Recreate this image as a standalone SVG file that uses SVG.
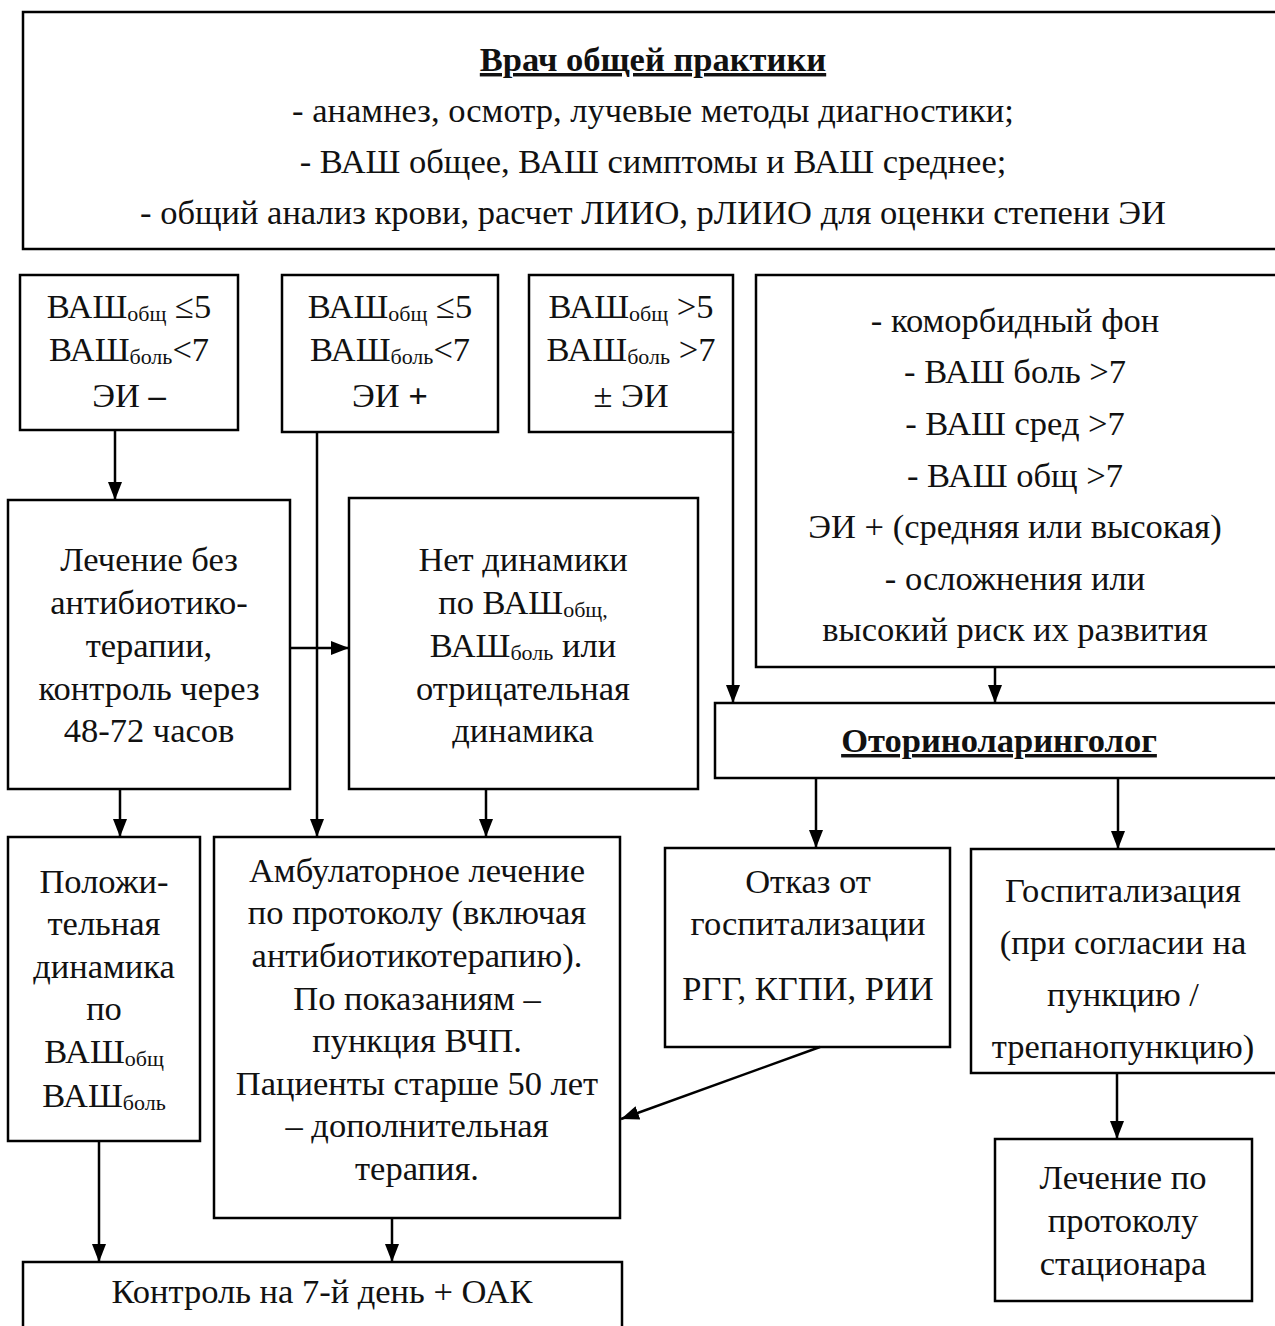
<svg xmlns="http://www.w3.org/2000/svg" width="1275" height="1326" viewBox="0 0 1275 1326">
<style>
  .box { fill: #fff; stroke: #000; stroke-width: 2.5; }
  .t { font-family: "Liberation Serif", "Times New Roman", serif; font-size: 34.5px; fill: #111; text-anchor: middle; }
  .top { font-size: 34.5px; }
  .b { font-weight: bold; }
  .u { text-decoration: underline; }
  .sub { font-size: 22px; }
  .conn line { stroke: #000; stroke-width: 2.5; fill: none; marker-end: url(#ah); }
</style>
<defs>
  <marker id="ah" markerUnits="userSpaceOnUse" markerWidth="18" markerHeight="18" viewBox="0 0 18 18" refX="18" refY="9" orient="auto">
    <path d="M0,2 L18,9 L0,16 Z" fill="#000"/>
  </marker>
</defs>
<rect width="1275" height="1326" fill="#fff"/>

<g id="gp">
  <rect class="box" x="23" y="12" width="1265" height="237"/>
  <text class="t top b u" x="653" y="71">Врач общей практики</text>
  <text class="t top" x="653" y="122">- анамнез, осмотр, лучевые методы диагностики;</text>
  <text class="t top" x="653" y="173">- ВАШ общее, ВАШ симптомы и ВАШ среднее;</text>
  <text class="t top" x="653" y="224">- общий анализ крови, расчет ЛИИО, рЛИИО для оценки степени ЭИ</text>
</g>

<g id="condA">
  <rect class="box" x="20" y="275" width="218" height="155"/>
  <text class="t" x="129" y="318">ВАШ<tspan class="sub" dy="3">общ</tspan><tspan dy="-3"> ≤5</tspan></text>
  <text class="t" x="129" y="361">ВАШ<tspan class="sub" dy="3">боль</tspan><tspan dy="-3">&lt;7</tspan></text>
  <text class="t" x="129" y="407">ЭИ <tspan class="b">–</tspan></text>
</g>

<g id="condB">
  <rect class="box" x="282" y="275" width="216" height="157"/>
  <text class="t" x="390" y="318">ВАШ<tspan class="sub" dy="3">общ</tspan><tspan dy="-3"> ≤5</tspan></text>
  <text class="t" x="390" y="361">ВАШ<tspan class="sub" dy="3">боль</tspan><tspan dy="-3">&lt;7</tspan></text>
  <text class="t" x="390" y="407">ЭИ <tspan class="b">+</tspan></text>
</g>

<g id="condC">
  <rect class="box" x="529" y="275" width="204" height="157"/>
  <text class="t" x="631" y="318">ВАШ<tspan class="sub" dy="3">общ</tspan><tspan dy="-3"> &gt;5</tspan></text>
  <text class="t" x="631" y="361">ВАШ<tspan class="sub" dy="3">боль</tspan><tspan dy="-3"> &gt;7</tspan></text>
  <text class="t" x="631" y="407">± ЭИ</text>
</g>

<g id="condD">
  <rect class="box" x="756" y="275" width="530" height="392"/>
  <text class="t" x="1015" y="332">- коморбидный фон</text>
  <text class="t" x="1015" y="383">- ВАШ боль &gt;7</text>
  <text class="t" x="1015" y="435">- ВАШ сред &gt;7</text>
  <text class="t" x="1015" y="487">- ВАШ общ &gt;7</text>
  <text class="t" x="1015" y="538">ЭИ + (средняя или высокая)</text>
  <text class="t" x="1015" y="590">- осложнения или</text>
  <text class="t" x="1015" y="641">высокий риск их развития</text>
</g>

<g id="noAB">
  <rect class="box" x="8" y="500" width="282" height="289"/>
  <text class="t" x="149" y="571">Лечение без</text>
  <text class="t" x="149" y="614">антибиотико-</text>
  <text class="t" x="149" y="657">терапии,</text>
  <text class="t" x="149" y="700">контроль через</text>
  <text class="t" x="149" y="742">48-72 часов</text>
</g>

<g id="noDyn">
  <rect class="box" x="349" y="498" width="349" height="291"/>
  <text class="t" x="523" y="571">Нет динамики</text>
  <text class="t" x="523" y="614">по ВАШ<tspan class="sub" dy="3">общ,</tspan></text>
  <text class="t" x="523" y="657">ВАШ<tspan class="sub" dy="3">боль</tspan><tspan dy="-3"> или</tspan></text>
  <text class="t" x="523" y="700">отрицательная</text>
  <text class="t" x="523" y="742">динамика</text>
</g>

<g id="ent">
  <rect class="box" x="715" y="703" width="572" height="75"/>
  <text class="t b u" x="999" y="752">Оториноларинголог</text>
</g>

<g id="posDyn">
  <rect class="box" x="8" y="837" width="192" height="304"/>
  <text class="t" x="104" y="893">Положи-</text>
  <text class="t" x="104" y="935">тельная</text>
  <text class="t" x="104" y="978">динамика</text>
  <text class="t" x="104" y="1020">по</text>
  <text class="t" x="104" y="1063">ВАШ<tspan class="sub" dy="3">общ</tspan></text>
  <text class="t" x="104" y="1107">ВАШ<tspan class="sub" dy="3">боль</tspan></text>
</g>

<g id="amb">
  <rect class="box" x="214" y="837" width="406" height="381"/>
  <text class="t" x="417" y="882">Амбулаторное лечение</text>
  <text class="t" x="417" y="924">по протоколу (включая</text>
  <text class="t" x="417" y="967">антибиотикотерапию).</text>
  <text class="t" x="417" y="1010">По показаниям –</text>
  <text class="t" x="417" y="1052">пункция ВЧП.</text>
  <text class="t" x="417" y="1095">Пациенты старше 50 лет</text>
  <text class="t" x="417" y="1137">– дополнительная</text>
  <text class="t" x="417" y="1180">терапия.</text>
</g>

<g id="refuse">
  <rect class="box" x="665" y="848" width="285" height="199"/>
  <text class="t" x="808" y="893">Отказ от</text>
  <text class="t" x="808" y="935">госпитализации</text>
  <text class="t" x="808" y="1000">РГГ, КГПИ, РИИ</text>
</g>

<g id="hosp">
  <rect class="box" x="971" y="849" width="316" height="224"/>
  <text class="t" x="1123" y="902">Госпитализация</text>
  <text class="t" x="1123" y="954">(при согласии на</text>
  <text class="t" x="1123" y="1006">пункцию /</text>
  <text class="t" x="1123" y="1058">трепанопункцию)</text>
</g>

<g id="inpat">
  <rect class="box" x="995" y="1139" width="257" height="162"/>
  <text class="t" x="1123" y="1189">Лечение по</text>
  <text class="t" x="1123" y="1232">протоколу</text>
  <text class="t" x="1123" y="1275">стационара</text>
</g>

<g id="ctrl">
  <rect class="box" x="23" y="1262" width="599" height="80"/>
  <text class="t" x="322" y="1303">Контроль на 7-й день + ОАК</text>
</g>

<g class="conn">
  <line x1="115" y1="430" x2="115" y2="500"/>
  <line x1="317" y1="432" x2="317" y2="837"/>
  <line x1="290" y1="648" x2="349" y2="648"/>
  <line x1="733" y1="432" x2="733" y2="703"/>
  <line x1="995" y1="667" x2="995" y2="703"/>
  <line x1="120" y1="789" x2="120" y2="837"/>
  <line x1="486" y1="789" x2="486" y2="837"/>
  <line x1="816" y1="778" x2="816" y2="848"/>
  <line x1="1118" y1="778" x2="1118" y2="849"/>
  <line x1="1117" y1="1073" x2="1117" y2="1139"/>
  <line x1="820" y1="1047" x2="621" y2="1119"/>
  <line x1="99" y1="1141" x2="99" y2="1262"/>
  <line x1="392" y1="1218" x2="392" y2="1262"/>
</g>
</svg>
